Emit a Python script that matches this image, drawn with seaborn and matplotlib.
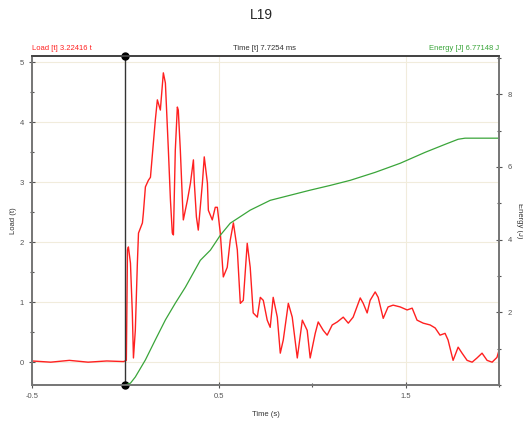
import matplotlib
matplotlib.use("Agg")
import matplotlib.pyplot as plt
import seaborn as sns
from matplotlib.ticker import MultipleLocator

# -----------------------------------------------------------------------------
# Données (temps en ms, charge en t, énergie en J)
# -----------------------------------------------------------------------------

load_time = [-0.5, -0.4, -0.3, -0.2, -0.1, -0.01,
             0.005, 0.011, 0.016, 0.027, 0.037, 0.043, 0.053, 0.064, 0.070,
             0.091, 0.096, 0.107, 0.123, 0.134, 0.160, 0.171, 0.187, 0.203,
             0.214, 0.230, 0.241, 0.251, 0.257, 0.267, 0.278, 0.283, 0.294,
             0.305, 0.310, 0.332, 0.348, 0.364, 0.369, 0.380, 0.390, 0.412,
             0.422, 0.439, 0.444, 0.465, 0.481, 0.492, 0.508, 0.524, 0.545,
             0.561, 0.578, 0.599, 0.615, 0.631, 0.652, 0.668, 0.684, 0.706,
             0.722, 0.738, 0.759, 0.775, 0.791, 0.813, 0.829, 0.845, 0.872,
             0.893, 0.920, 0.947, 0.973, 0.989, 1.016, 1.032, 1.059, 1.080,
             1.107, 1.134, 1.166, 1.193, 1.219, 1.257, 1.273, 1.294, 1.310,
             1.337, 1.353, 1.380, 1.406, 1.433, 1.471, 1.508, 1.535, 1.561,
             1.594, 1.631, 1.658, 1.684, 1.711, 1.727, 1.754, 1.781, 1.802,
             1.829, 1.856, 1.882, 1.909, 1.936, 1.963, 1.989, 2.0]
load_value = [0.02, 0.0, 0.03, 0.0, 0.02, 0.01,
              0.03, 1.87, 1.92, 1.65, 0.82, 0.07, 0.53, 1.65, 2.15,
              2.32, 2.48, 2.92, 3.03, 3.08, 4.03, 4.37, 4.20, 4.82,
              4.65, 3.53, 2.70, 2.15, 2.12, 3.53, 4.25, 4.20, 3.53,
              2.70, 2.37, 2.70, 2.98, 3.37, 2.98, 2.42, 2.20, 2.98,
              3.42, 2.98, 2.53, 2.37, 2.58, 2.58, 2.15, 1.42, 1.58,
              2.03, 2.32, 1.87, 0.98, 1.03, 1.98, 1.58, 0.82, 0.75,
              1.08, 1.03, 0.70, 0.58, 1.08, 0.75, 0.15, 0.37, 0.98,
              0.75, 0.07, 0.70, 0.53, 0.07, 0.48, 0.67, 0.53, 0.45,
              0.62, 0.67, 0.75, 0.65, 0.75, 1.07, 0.98, 0.82, 1.03,
              1.17, 1.08, 0.73, 0.92, 0.95, 0.92, 0.87, 0.90, 0.70,
              0.65, 0.62, 0.57, 0.45, 0.48, 0.37, 0.03, 0.25, 0.15,
              0.03, 0.0, 0.07, 0.15, 0.03, 0.0, 0.08, 0.20]

energy_time = [0.0, 0.027, 0.053, 0.107, 0.160, 0.214, 0.267, 0.321, 0.401,
               0.455, 0.508, 0.561, 0.668, 0.775, 0.882, 0.989, 1.096, 1.203,
               1.337, 1.471, 1.604, 1.711, 1.781, 1.818, 2.0]
energy_value = [0.0, 0.05, 0.22, 0.69, 1.24, 1.79, 2.25, 2.69, 3.43,
                3.71, 4.12, 4.45, 4.81, 5.08, 5.22, 5.36, 5.49, 5.63,
                5.85, 6.10, 6.40, 6.62, 6.76, 6.79, 6.79]

x_ticks = [-0.5, 0.5, 1.5]
x_tick_labels = ["-0.5", "0.5", "1.5"]
load_ticks = [0, 1, 2, 3, 4, 5]
energy_ticks = [2, 4, 6, 8]

title = "L19"
load_header = "Load [t] 3.22416 t"
time_header = "Time [t] 7.7254 ms"
energy_header = "Energy [J] 6.77148 J"

# -----------------------------------------------------------------------------
# Figure
# -----------------------------------------------------------------------------

sns.set_style("white")
plt.rcParams['font.family'] = ['Liberation Sans', 'DejaVu Sans']

fig = plt.figure(figsize=(5.23, 4.30), dpi=100)
ax = fig.add_axes([0.0612, 0.1047, 0.893, 0.765])
ax2 = ax.twinx()

grid_col = '#f1ecdc'
for xv in x_ticks:
    ax.axvline(xv, color=grid_col, lw=0.8, zorder=0)
for yv in load_ticks:
    ax.axhline(yv, color=grid_col, lw=0.8, zorder=0)

sns.lineplot(x=load_time, y=load_value, ax=ax, color='#ff2020', lw=1.0,
             sort=False, estimator=None)
sns.lineplot(x=energy_time, y=energy_value, ax=ax2, color='#3aa53a', lw=0.9,
             sort=False, estimator=None)

ax.set_xlim(-0.5, 2.0)
ax.set_ylim(-0.38, 5.1)
ax2.set_ylim(0, 9.05)

# curseur à t = 0
ax.axvline(0, color='#333333', lw=1.0, zorder=5)
ax.plot([0, 0], [-0.38, 5.1], 'o', color='black', ms=5, clip_on=False, zorder=6)

ax.set_xticks(x_ticks)
ax.set_xticklabels(x_tick_labels)
ax.xaxis.set_minor_locator(MultipleLocator(0.5))
ax.set_yticks(load_ticks)
ax.yaxis.set_minor_locator(MultipleLocator(0.5))
ax2.set_yticks(energy_ticks)
ax2.yaxis.set_minor_locator(MultipleLocator(1))

for a in (ax, ax2):
    a.tick_params(which='both', direction='inout', length=4, width=0.8,
                  labelsize=5.5, colors='#555555', pad=4)
    a.tick_params(which='minor', length=3)
    for s in a.spines.values():
        s.set_color('#777777')
        s.set_linewidth(1.3)
ax.spines['top'].set_color('#444444')
ax2.spines['top'].set_color('#444444')
ax.tick_params(axis='both', which='both', left=True, bottom=True)
ax2.tick_params(axis='y', which='both', right=True)

ax.set_xlabel("Time (s)", fontsize=5.5, color='#333333')
ax.xaxis.set_label_coords(0.5, -0.08)
ax.set_ylabel("Load (t)", fontsize=5.5, color='#333333')
ax.yaxis.set_label_coords(-0.032, 0.5)
ax2.set_ylabel("Energy (J)", fontsize=5.5, color='#333333', rotation=270,
               va='center')
ax2.yaxis.set_label_coords(1.044, 0.5)

fig.text(0.5, 0.965, title, ha='center', va='center', fontsize=10)
fig.text(0.0612, 0.888, load_header, ha='left', va='center', fontsize=5.5,
         color='#ff2020')
fig.text(0.505, 0.888, time_header, ha='center', va='center', fontsize=5.5,
         color='#333333')
fig.text(0.954, 0.888, energy_header, ha='right', va='center', fontsize=5.5,
         color='#3aa53a')

plt.savefig("out.png", dpi=100)
plt.close()
